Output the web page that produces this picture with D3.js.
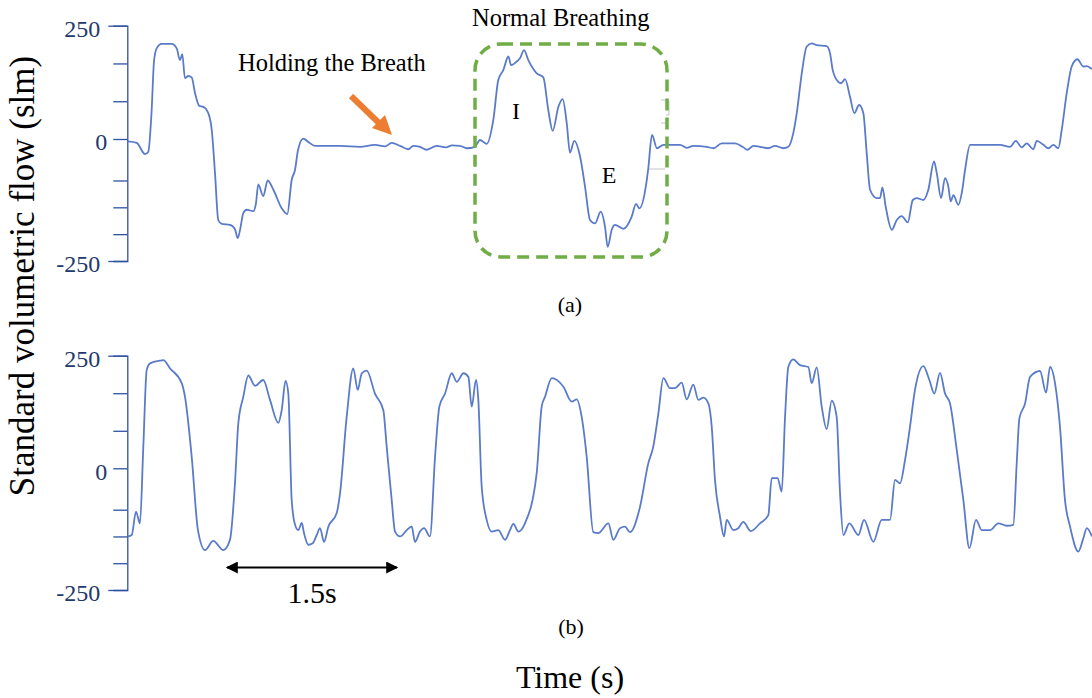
<!DOCTYPE html>
<html>
<head>
<meta charset="utf-8">
<script src="https://cdn.jsdelivr.net/npm/d3@7"></script>
<style>
  html, body { margin: 0; padding: 0; background: #fff; }
  svg { display: block; }
  svg text { font-family: "Liberation Serif", "Times New Roman", serif; }
</style>
</head>
<body>
<svg id="chart" width="1092" height="698"></svg>
<script>
/* two flow traces, (a) hold + normal breath, (b) regular breathing */

// panel (a): time (s) and flow (slm)
var tA = [0, 0.075, 0.147, 0.175, 0.204, 0.224, 0.247, 0.291, 0.377, 0.42, 0.448, 0.468, 0.491, 0.52, 0.549, 0.578, 0.615, 0.649, 0.692, 0.722,
  0.75, 0.778, 0.808, 0.879, 0.922, 0.946, 0.966, 0.994, 1.023, 1.08, 1.103, 1.123, 1.166, 1.204, 1.253, 1.325, 1.373, 1.411, 1.44, 1.466,
  1.511, 1.554, 1.612, 1.713, 1.828, 2.0, 2.129, 2.216, 2.273, 2.345, 2.416, 2.459, 2.517, 2.575, 2.661, 2.741, 2.793, 2.862, 2.92, 2.991,
  3.034, 3.092, 3.149, 3.192, 3.235, 3.279, 3.302, 3.351, 3.379, 3.414, 3.451, 3.523, 3.58, 3.623, 3.661, 3.71, 3.747, 3.782, 3.81, 3.847,
  3.897, 3.94, 3.983, 4.026, 4.075, 4.112, 4.135, 4.17, 4.198, 4.27, 4.342, 4.379, 4.408, 4.466, 4.485, 4.517, 4.56, 4.615, 4.759, 4.816,
  4.873, 4.989, 5.046, 5.118, 5.233, 5.304, 5.339, 5.391, 5.448, 5.52, 5.578, 5.649, 5.692, 5.735, 5.765, 5.808, 5.851, 5.894, 5.937, 6.023,
  6.052, 6.075, 6.123, 6.147, 6.181, 6.224, 6.261, 6.302, 6.339, 6.368, 6.397, 6.454, 6.483, 6.503, 6.532, 6.584, 6.627, 6.67, 6.722, 6.765,
  6.799, 6.856, 6.899, 6.948, 6.972, 7.009, 7.043, 7.072, 7.092, 7.115, 7.158, 7.187, 7.216, 7.259, 7.316, 7.459, 7.517, 7.603, 7.653, 7.704,
  7.747, 7.804, 7.834, 7.891, 7.934, 7.977, 8.02, 8.049, 8.092, 8.135, 8.184, 8.235, 8.265, 8.31];
var vA = [-5, -8, -31, -26, 64, 171, 200, 210, 210, 200, 174, 187, 134, 139, 136, 101, 73, 71, 57, 20,
  -70, -166, -174, -176, -185, -203, -186, -152, -145, -148, -132, -93, -117, -85, -104, -142, -154, -84, -63, -22,
  1, -6, -14, -14, -14, -16, -12, -15, -8, -14, -21, -14, -16, -22, -14, -17, -13, -14, -19, -16,
  -2, -10, 42, 130, 152, 182, 163, 171, 178, 196, 174, 145, 136, 64, 18, 71, 88, 35, -28, -4,
  -36, -98, -166, -173, -149, -180, -221, -186, -176, -184, -159, -133, -142, -94, -60, 9, -19, -12, -12, -18,
  -14, -16, -19, -9, -9, -17, -22, -14, -16, -19, -14, -19, -16, 13, 57, 145, 204, 211, 207, 205,
  189, 152, 126, 123, 132, 93, 57, 75, 57, -29, -104, -121, -121, -99, -139, -186, -166, -158, -171, -125,
  -121, -125, -104, -46, -70, -121, -80, -98, -128, -115, -135, -111, -63, -12, -12, -12, -12, -16, -4, -17,
  -9, -21, -4, -12, -19, -12, -19, 20, 101, 160, 176, 160, 161, 154];

// panel (b): time (s) and flow (slm)
var tB = [0, 0.032, 0.069, 0.103, 0.132, 0.161, 0.19, 0.276, 0.304, 0.362, 0.463, 0.491, 0.549, 0.603, 0.664, 0.735, 0.822, 0.879, 0.922, 0.951,
  0.994, 1.037, 1.095, 1.166, 1.224, 1.296, 1.325, 1.358, 1.382, 1.411, 1.44, 1.468, 1.498, 1.517, 1.554, 1.592, 1.627, 1.655, 1.69, 1.727,
  1.799, 1.828, 1.885, 1.942, 1.98, 2.015, 2.058, 2.129, 2.201, 2.23, 2.273, 2.302, 2.345, 2.403, 2.446, 2.474, 2.517, 2.552, 2.603, 2.647,
  2.684, 2.733, 2.791, 2.834, 2.891, 2.934, 2.963, 3.0, 3.02, 3.049, 3.092, 3.135, 3.192, 3.25, 3.293, 3.322, 3.365, 3.422, 3.523, 3.566,
  3.595, 3.653, 3.753, 3.825, 3.868, 3.911, 3.954, 4.011, 4.054, 4.141, 4.184, 4.241, 4.284, 4.328, 4.414, 4.485, 4.528, 4.572, 4.615, 4.672,
  4.716, 4.773, 4.816, 4.873, 4.916, 4.96, 5.003, 5.032, 5.06, 5.103, 5.138, 5.161, 5.218, 5.261, 5.304, 5.368, 5.448, 5.52, 5.549, 5.6,
  5.635, 5.664, 5.692, 5.735, 5.793, 5.865, 5.894, 5.937, 5.98, 6.023, 6.066, 6.109, 6.138, 6.167, 6.218, 6.296, 6.345, 6.425, 6.497, 6.569,
  6.612, 6.655, 6.698, 6.741, 6.784, 6.856, 6.908, 6.951, 7.0, 7.043, 7.086, 7.144, 7.201, 7.253, 7.31, 7.36, 7.431, 7.503, 7.575, 7.632,
  7.661, 7.684, 7.733, 7.776, 7.862, 7.914, 7.948, 7.991, 8.034, 8.077, 8.121, 8.192, 8.235, 8.265, 8.31];
var vB = [-140, -137, -89, -113, 48, 218, 233, 239, 240, 222, 189, 159, 26, -127, -168, -149, -168, -147, -31, 100,
  159, 206, 183, 196, 152, 101, 129, 194, 166, -65, -116, -127, -112, -133, -157, -154, -137, -123, -151, -120,
  -92, -51, 114, 222, 174, 211, 217, 166, 129, 48, -65, -130, -140, -127, -120, -151, -130, -123, -140, 26,
  137, 166, 211, 192, 211, 203, 137, 196, 152, -38, -106, -130, -127, -147, -127, -114, -130, -113, -10, 137,
  159, 200, 181, 148, 153, 114, 26, -131, -133, -113, -147, -123, -120, -131, -79, 11, 48, 122, 200, 178,
  178, 190, 153, 186, 152, 157, 144, 92, -24, -99, -140, -106, -127, -123, -110, -129, -113, -96, -20, -20,
  -48, 114, 225, 242, 229, 225, 189, 224, 137, 87, 150, 114, -51, -137, -113, -137, -106, -151, -106, -106,
  -24, -31, 18, 92, 174, 227, 196, 166, 212, 166, 144, 41, -65, -164, -106, -127, -127, -113, -118, -116,
  11, 111, 144, 203, 216, 168, 225, 189, 92, -65, -120, -171, -144, -123, -140];

var majorTicks = [250, 0, -250];
var minorTicks = [166.7, 83.3, -85, -140, -195];

var SERIF = '"Liberation Serif", "Times New Roman", serif';
var svg = d3.select('#chart');
var x = d3.scaleLinear().domain([0, 8.31]).range([128, 1092]);
// the source axis is not even above/below zero, so the scale is piecewise
var yA = d3.scaleLinear().domain([-250, 0, 250]).range([261, 139, 25.7]);
var yB = d3.scaleLinear().domain([-250, 0, 250]).range([590, 468.3, 355.7]);

var AXIS = '#2d52a0', LABEL = '#1f3a6a', TRACE = '#5a7bca';

function drawAxis(y) {
  var ticks = majorTicks.concat(minorTicks);
  var ax = d3.axisLeft(y).tickValues(ticks).tickSizeOuter(0).tickSize(14)
    .tickFormat(function (d) { return majorTicks.indexOf(d) >= 0 ? d : ''; });
  var g = svg.append('g').attr('transform', 'translate(127.3,0)').call(ax).attr('font-family', SERIF);
  g.select('.domain').attr('stroke', AXIS).attr('stroke-width', 1.3);
  g.selectAll('.tick line').attr('stroke', AXIS).attr('stroke-width', 1.3)
    .attr('x2', function (d) { return (d === 250 || d === -250) ? -19 : -14; });
  g.selectAll('.tick text').attr('fill', LABEL).attr('font-size', 24).attr('font-family', SERIF)
    .attr('x', function (d) { return (d === 250 || d === -250) ? -27 : -20; })
    .attr('dy', '0.45em');
}

function drawTrace(ts, vs, y) {
  var pts = ts.map(function (t, i) { return [t, vs[i]]; });
  var line = d3.line().x(function (d) { return x(d[0]); }).y(function (d) { return y(d[1]); }).curve(d3.curveMonotoneX);
  svg.append('path').datum(pts).attr('d', line).attr('fill', 'none')
    .attr('stroke', TRACE).attr('stroke-width', 1.8).attr('stroke-linejoin', 'round');
}

drawAxis(yA);
drawAxis(yB);

// leftover grey marks near the dashed box
var grey = svg.append('g').attr('stroke', '#c4c4c4').attr('stroke-width', 1).attr('fill', 'none');
grey.append('path').attr('d', 'M661,100H668M666,101H669V115H666M661,123H667M648,169H665');

drawTrace(tA, vA, yA);
drawTrace(tB, vB, yB);

// normal breathing box
svg.append('rect').attr('x', 475).attr('y', 44).attr('width', 192).attr('height', 213).attr('rx', 26)
  .attr('fill', 'none').attr('stroke', '#70ad47').attr('stroke-width', 3.5).attr('stroke-dasharray', '12,7');

// orange arrow
svg.append('line').attr('x1', 351).attr('y1', 96).attr('x2', 380).attr('y2', 124)
  .attr('stroke', '#ed7d31').attr('stroke-width', 6);
svg.append('path').attr('d', 'M392,135 L372,128 L385,115 Z').attr('fill', '#ed7d31');

// 1.5s arrow
var defs = svg.append('defs');
defs.append('marker').attr('id', 'ah').attr('viewBox', '0 0 10 10').attr('refX', 9).attr('refY', 5)
  .attr('markerWidth', 7).attr('markerHeight', 6).attr('orient', 'auto-start-reverse').attr('markerUnits', 'strokeWidth')
  .append('path').attr('d', 'M0,0 L10,5 L0,10 Z').attr('fill', '#000');
svg.append('line').attr('x1', 227).attr('y1', 567.5).attr('x2', 397).attr('y2', 567.5)
  .attr('stroke', '#000').attr('stroke-width', 2)
  .attr('marker-start', 'url(#ah)').attr('marker-end', 'url(#ah)');

function txt(s, xx, yy, size, anchor) {
  return svg.append('text').attr('x', xx).attr('y', yy).attr('font-size', size).attr('font-family', SERIF)
    .attr('text-anchor', anchor || 'middle').attr('fill', '#000').text(s);
}
txt('Holding the Breath', 238, 71, 24.5, 'start');
txt('Normal Breathing', 472, 26, 24.5, 'start');
txt('I', 516, 119, 24);
txt('E', 609, 183, 24);
txt('(a)', 570, 312, 22);
txt('(b)', 571, 634, 22);
txt('1.5s', 312, 603, 30);
txt('Time (s)', 570, 688, 32);
svg.append('text').attr('transform', 'translate(33.5,276) rotate(-90)').attr('text-anchor', 'middle')
  .attr('font-family', SERIF).attr('font-size', 35).attr('fill', '#000').text('Standard volumetric flow (slm)');
</script>
</body>
</html>
